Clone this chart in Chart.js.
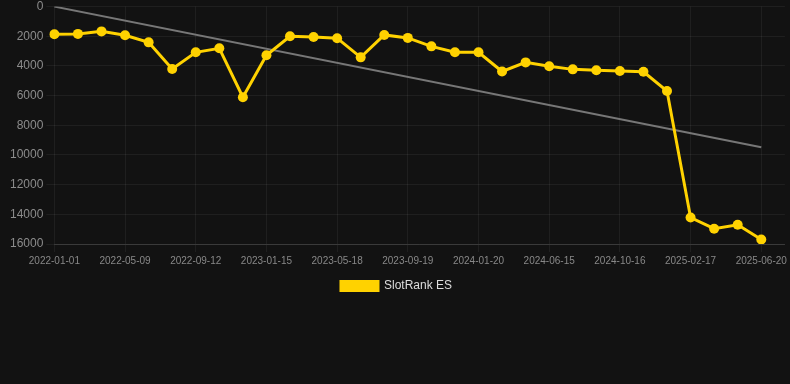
<!DOCTYPE html>
<html>
<head>
<meta charset="utf-8">
<script src="https://cdn.jsdelivr.net/npm/chart.js@4.4.1/dist/chart.umd.min.js"></script>
<style>
  html, body { margin: 0; padding: 0; background: #121212; }
  .wrap { width: 790px; height: 302px; position: relative; }
</style>
</head>
<body>
<div class="wrap"><canvas id="rankChart"></canvas></div>
<script>
// 날짜 라벨 (3개마다 표시)
const dates = [
  "2022-01-01", "2022-02-13", "2022-03-28", "2022-05-09", "2022-06-20", "2022-08-01",
  "2022-09-12", "2022-10-24", "2022-12-04", "2023-01-15", "2023-02-26", "2023-04-07",
  "2023-05-18", "2023-06-29", "2023-08-09", "2023-09-19", "2023-10-31", "2023-12-10",
  "2024-01-20", "2024-03-04", "2024-04-30", "2024-06-15", "2024-07-25", "2024-09-05",
  "2024-10-16", "2024-11-28", "2025-01-06", "2025-02-17", "2025-03-31", "2025-05-10",
  "2025-06-20", ""
];

// SlotRank ES 순위
const rankES = [
  1860, 1840, 1670, 1930, 2410, 4210, 3080, 2810, 6110, 3280,
  2000, 2050, 2130, 3420, 1910, 2110, 2680, 3080, 3080, 4370,
  3760, 4020, 4230, 4290, 4340, 4390, 5690, 14220, 14970, 14700,
  15700
];

// 추세선 (시작, 끝)
const trendStart = { x: "2022-01-01", y: 0 };
const trendEnd = { x: "2025-06-20", y: 9480 };

const yTicks = [0, 2000, 4000, 6000, 8000, 10000, 12000, 14000, 16000];

const fontFamily = 'Liberation Sans, Arial, sans-serif';

new Chart(document.getElementById("rankChart"), {
  type: 'line',
  data: {
    labels: dates,
    datasets: [
      {
        label: 'SlotRank ES',
        data: rankES,
        borderColor: '#FFD200',
        backgroundColor: '#FFD200',
        borderWidth: 3,
        pointRadius: 5,
        pointBackgroundColor: '#FFD200',
        pointBorderWidth: 0,
        tension: 0
      },
      {
        label: 'trend',
        data: [trendStart, trendEnd],
        borderColor: '#777777',
        borderWidth: 2,
        pointRadius: 0,
        tension: 0
      }
    ]
  },
  options: {
    responsive: true,
    maintainAspectRatio: false,
    animation: false,
    layout: { padding: { left: 7, right: 4 } },
    plugins: {
      legend: {
        position: 'bottom',
        labels: {
          color: '#dddddd',
          boxWidth: 37,
          boxHeight: 9,
          font: { family: fontFamily, size: 12 },
          filter: (item) => item.text !== 'trend'
        }
      },
      tooltip: { enabled: false }
    },
    scales: {
      x: {
        ticks: {
          autoSkip: false,
          maxRotation: 0,
          color: '#888888',
          font: { family: fontFamily, size: 10 },
          callback: function (val, i) {
            return i % 3 === 0 && dates[i] ? dates[i] : null;
          }
        },
        grid: { color: 'rgba(255,255,255,0.06)' },
        border: { color: 'rgba(255,255,255,0.12)' }
      },
      y: {
        reverse: true,
        min: yTicks[0],
        max: yTicks[yTicks.length - 1],
        ticks: {
          stepSize: 2000,
          color: '#8c8c8c',
          font: { family: fontFamily, size: 12, lineHeight: 0.6 },
          callback: (v) => String(v)
        },
        grid: { color: 'rgba(255,255,255,0.06)' },
        border: { display: false }
      }
    }
  }
});
</script>
</body>
</html>
